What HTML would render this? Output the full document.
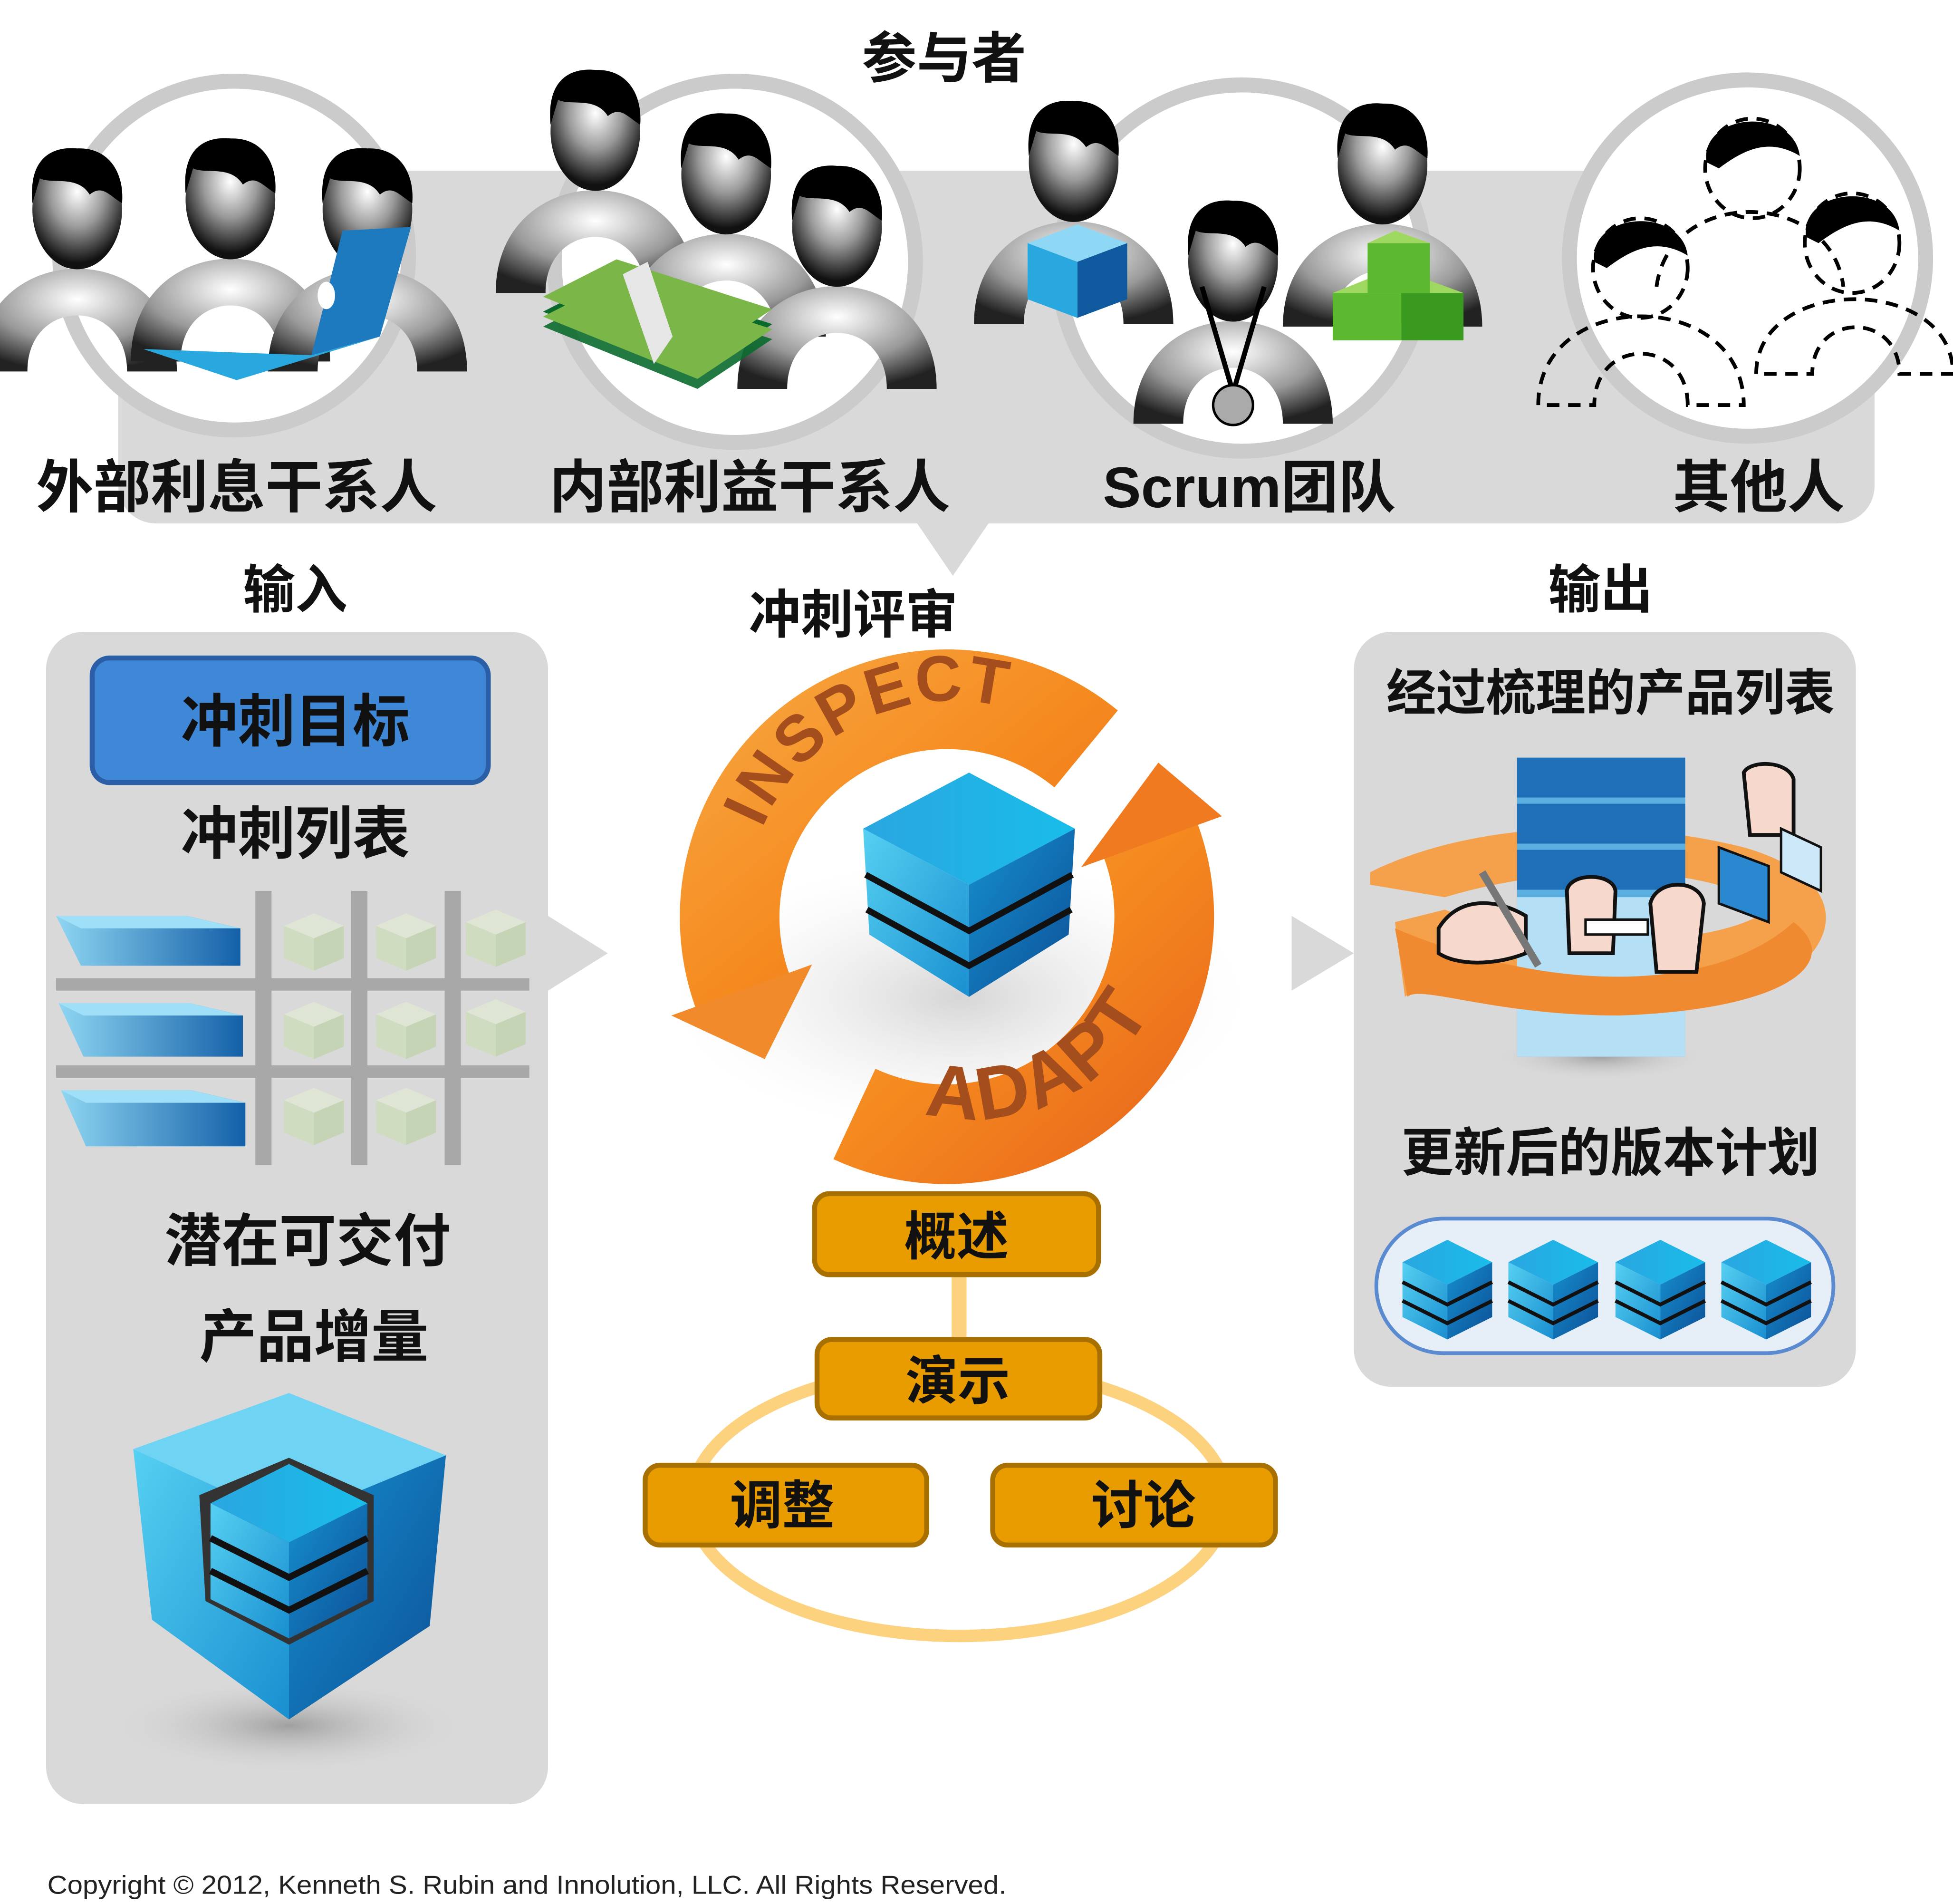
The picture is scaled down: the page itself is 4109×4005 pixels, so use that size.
<!DOCTYPE html>
<html><head><meta charset="utf-8"><style>
html,body{margin:0;padding:0;background:#fff}
svg{display:block}
.t{font-family:"Liberation Sans","Noto Sans CJK SC",sans-serif;font-weight:bold;fill:#111;text-anchor:middle}
</style></head><body>
<svg width="4109" height="4005" viewBox="0 0 1568 1528" xmlns="http://www.w3.org/2000/svg">
<defs>
<radialGradient id="gp" cx="0.5" cy="0.35" r="0.6"><stop offset="0" stop-color="#fff"/><stop offset="0.5" stop-color="#9a9a9a"/><stop offset="1" stop-color="#111"/></radialGradient>
<radialGradient id="gb" cx="0.5" cy="0.3" r="0.7"><stop offset="0" stop-color="#fff"/><stop offset="0.6" stop-color="#999"/><stop offset="1" stop-color="#222"/></radialGradient>
<linearGradient id="blueL" x1="0" y1="0" x2="1" y2="1"><stop offset="0" stop-color="#56d0f2"/><stop offset="1" stop-color="#1a8fd0"/></linearGradient>
<linearGradient id="blueR" x1="0" y1="0" x2="1" y2="1"><stop offset="0" stop-color="#1590cf"/><stop offset="1" stop-color="#0d4f96"/></linearGradient>
<linearGradient id="blueT" x1="0" y1="0" x2="1" y2="0"><stop offset="0" stop-color="#2aa6e0"/><stop offset="1" stop-color="#19bdea"/></linearGradient>
<linearGradient id="bar" x1="0" y1="0" x2="1" y2="0"><stop offset="0" stop-color="#8fd6f2"/><stop offset="1" stop-color="#1460a8"/></linearGradient>
<linearGradient id="org" x1="0" y1="0" x2="1" y2="1"><stop offset="0" stop-color="#f7a23c"/><stop offset="0.5" stop-color="#f58a1f"/><stop offset="1" stop-color="#ea6a1c"/></linearGradient>
<radialGradient id="shadow" cx="0.5" cy="0.5" r="0.5"><stop offset="0" stop-color="#888" stop-opacity="0.7"/><stop offset="1" stop-color="#ddd" stop-opacity="0"/></radialGradient>
<g id="person">
<path d="M-80,130 C-80,20 80,20 80,130 L40,130 C40,70 -40,70 -40,130 Z" fill="url(#gb)"/>
<ellipse cx="0" cy="0" rx="36" ry="48" fill="url(#gp)"/>
<path d="M-36,-5 C-40,-50 -10,-50 0,-49 C25,-50 38,-30 36,-5 C25,-12 20,-20 10,-12 C0,-28 -20,-20 -30,-25 Z" fill="#000"/>
</g>
<g id="cube">
<polygon points="0,-40 36,-22 0,-4 -36,-22" fill="url(#blueT)"/>
<polygon points="-36,-22 0,-4 0,40 -36,22" fill="url(#blueL)"/>
<polygon points="36,-22 0,-4 0,40 36,22" fill="url(#blueR)"/>
<polyline points="-36,-6 0,12 36,-6" fill="none" stroke="#111" stroke-width="3"/>
<polyline points="-36,9 0,27 36,9" fill="none" stroke="#111" stroke-width="3"/>
</g>
<g id="pcube" opacity="0.5">
<polygon points="0,-22 24,-12 0,-2 -24,-12" fill="#e6f2d0"/>
<polygon points="-24,-12 0,-2 0,24 -24,14" fill="#c8e0a8"/>
<polygon points="24,-12 0,-2 0,24 24,14" fill="#b0d090"/>
</g>
</defs>

<rect x="95" y="137" width="1410" height="283" rx="30" fill="#d9d9d9"/>
<polygon points="735,418 795,418 765,462" fill="#d9d9d9"/>
<text class="t" x="758" y="62" font-size="44">参与者</text>

<g stroke="#cbcbcb" stroke-width="12" fill="#fff">
<circle cx="188" cy="205" r="140"/>
<circle cx="590" cy="210" r="145"/>
<circle cx="997" cy="215" r="147"/>
<circle cx="1403" cy="207" r="143"/>
</g>

<use href="#person" x="62" y="168"/>
<use href="#person" x="185" y="160"/>
<use href="#person" x="295" y="168"/>
<polygon points="275,185 330,182 305,270 250,285" fill="#1e7abf"/>
<polygon points="115,280 250,285 305,270 190,305" fill="#29a8e0"/>
<ellipse cx="262" cy="237" rx="7" ry="11" fill="#fff"/>

<use href="#person" x="478" y="105"/>
<use href="#person" x="583" y="140"/>
<use href="#person" x="672" y="182"/>
<g>
<polygon points="436,250 495,220 620,260 560,300" fill="#0a6a2c"/>
<polygon points="436,238 495,208 620,248 560,288" fill="#7ab648"/>
<polygon points="436,262 495,232 620,272 560,312" fill="#0a6a2c" opacity="0.9"/>
<polygon points="436,254 495,224 620,264 560,304" fill="#7ab648"/>
<polygon points="500,220 520,210 540,270 525,292" fill="#e6e6e6"/>
</g>

<use href="#person" x="862" y="130"/>
<use href="#person" x="990" y="210"/>
<use href="#person" x="1110" y="132"/>
<polygon points="825,195 865,180 905,195 865,210" fill="#8fd8f5"/>
<polygon points="825,195 865,210 865,255 825,240" fill="#29a8e0"/>
<polygon points="905,195 865,210 865,255 905,240" fill="#0f5a9e"/>
<path d="M965,230 L990,315 L1015,230" fill="none" stroke="#000" stroke-width="4"/>
<circle cx="990" cy="325" r="16" fill="#aaa" stroke="#000" stroke-width="2"/>
<g>
<polygon points="1070,235 1120,215 1175,235 1125,258" fill="#9fd860"/>
<rect x="1070" y="235" width="55" height="38" fill="#5cb82e"/>
<rect x="1125" y="235" width="50" height="38" fill="#3a9a20"/>
<rect x="1098" y="195" width="50" height="40" fill="#5cb82e"/>
<polygon points="1098,195 1120,185 1148,195" fill="#9fd860"/>
</g>

<g fill="none" stroke="#000" stroke-width="3" stroke-dasharray="10,7">
<ellipse cx="1407" cy="135" rx="38" ry="40"/>
<path d="M1330,230 C1340,150 1470,150 1480,230"/>
<ellipse cx="1317" cy="215" rx="38" ry="40"/>
<path d="M1235,325 C1235,230 1400,230 1400,325 L1355,325 C1355,270 1280,270 1280,325 Z"/>
<ellipse cx="1487" cy="195" rx="38" ry="40"/>
<path d="M1410,300 C1410,220 1568,220 1568,300 L1525,300 C1525,250 1455,250 1455,300 Z"/>
</g>
<path d="M1370,130 C1365,90 1440,85 1445,125 C1420,110 1400,120 1380,135 Z" fill="#000"/>
<path d="M1280,210 C1275,170 1350,165 1355,205 C1330,190 1310,200 1290,215 Z" fill="#000"/>
<path d="M1450,190 C1445,150 1520,145 1525,185 C1500,170 1480,180 1460,195 Z" fill="#000"/>

<text class="t" x="190" y="407" font-size="46">外部利息干系人</text>
<text class="t" x="602" y="407" font-size="46">内部利益干系人</text>
<text class="t" x="1003" y="407" font-size="46">Scrum团队</text>
<text class="t" x="1412" y="407" font-size="46">其他人</text>

<text class="t" x="237" y="488" font-size="42">输入</text>
<text class="t" x="685" y="508" font-size="42">冲刺评审</text>
<text class="t" x="1285" y="488" font-size="42">输出</text>

<rect x="37" y="507" width="403" height="941" rx="30" fill="#d9d9d9"/>
<polygon points="440,735 488,765 440,795" fill="#d9d9d9"/>
<rect x="74" y="528" width="318" height="100" rx="14" fill="#3f88d8" stroke="#2a5fa8" stroke-width="4"/>
<text class="t" x="237" y="595" font-size="46">冲刺目标</text>
<text class="t" x="237" y="685" font-size="46">冲刺列表</text>
<g fill="#a8a8a8">
<rect x="205" y="715" width="13" height="220"/>
<rect x="282" y="715" width="13" height="220"/>
<rect x="357" y="715" width="13" height="220"/>
<rect x="45" y="785" width="380" height="10"/>
<rect x="45" y="855" width="380" height="10"/>
</g>
<g>
<polygon points="45,735 150,735 193,745 193,775 65,775" fill="url(#bar)"/>
<polygon points="45,735 65,745 193,745 150,735" fill="#9fe0f8"/>
<polygon points="47,805 152,805 195,815 195,848 67,848" fill="url(#bar)"/>
<polygon points="47,805 67,815 195,815 152,805" fill="#9fe0f8"/>
<polygon points="49,875 154,875 197,885 197,920 69,920" fill="url(#bar)"/>
<polygon points="49,875 69,885 197,885 154,875" fill="#9fe0f8"/>
</g>
<use href="#pcube" x="252" y="755"/><use href="#pcube" x="326" y="755"/><use href="#pcube" x="398" y="752"/>
<use href="#pcube" x="252" y="826"/><use href="#pcube" x="326" y="826"/><use href="#pcube" x="398" y="824"/>
<use href="#pcube" x="252" y="895"/><use href="#pcube" x="326" y="895"/>
<text class="t" x="247" y="1012" font-size="46">潜在可交付</text>
<text class="t" x="252" y="1089" font-size="46">产品增量</text>
<ellipse cx="232" cy="1385" rx="150" ry="40" fill="url(#shadow)"/>
<polygon points="107,1163 232,1118 358,1168 232,1220" fill="#6fd4f4"/>
<polygon points="107,1163 232,1220 232,1380 122,1300" fill="url(#blueL)"/>
<polygon points="358,1168 232,1220 232,1380 345,1305" fill="url(#blueR)"/>
<polygon points="160,1200 232,1170 300,1200 300,1285 232,1320 165,1285" fill="#333"/>
<g transform="translate(232,1245) scale(1.75)"><use href="#cube"/></g>

<ellipse cx="770" cy="800" rx="230" ry="110" fill="url(#shadow)" opacity="0.5"/>
<path d="M872,601 A175,175 0 0 0 596,795" fill="none" stroke="url(#org)" stroke-width="80"/>
<polygon points="652,774 539,815 614,850" fill="#f08a2a"/>
<path d="M686,894 A175,175 0 0 0 924,675" fill="none" stroke="url(#org)" stroke-width="80"/>
<polygon points="981,655 868,696 930,612" fill="#f07a20"/>
<path id="tp1" d="M612,665 A165,165 0 0 1 870,600" fill="none"/>
<path id="tp2" d="M742,893 A160,160 0 0 0 940,760" fill="none"/>
<text font-family="Liberation Sans Narrow,Liberation Sans,sans-serif" font-weight="bold" font-size="52" fill="#a34e1c" letter-spacing="2"><textPath href="#tp1">INSPECT</textPath></text>
<text font-family="Liberation Sans Narrow,Liberation Sans,sans-serif" font-weight="bold" font-size="60" fill="#a34e1c" letter-spacing="2"><textPath href="#tp2">ADAPT</textPath></text>
<g transform="translate(778,710)">
<polygon points="0,-90 85,-45 0,0 -85,-45" fill="url(#blueT)"/>
<polygon points="-85,-45 0,0 0,90 -80,40" fill="url(#blueL)"/>
<polygon points="85,-45 0,0 0,90 80,40" fill="url(#blueR)"/>
<polyline points="-83,-8 0,37 83,-8" fill="none" stroke="#111" stroke-width="5"/>
<polyline points="-82,20 0,65 82,20" fill="none" stroke="#111" stroke-width="5"/>
</g>

<ellipse cx="770" cy="1205" rx="215" ry="108" fill="none" stroke="#fdd27f" stroke-width="10"/>
<rect x="764" y="1023" width="12" height="52" fill="#fdd27f"/>
<g fill="#e89c00" stroke="#a87000" stroke-width="4">
<rect x="654" y="958" width="228" height="65" rx="12"/>
<rect x="656" y="1075" width="227" height="63" rx="12"/>
<rect x="518" y="1176" width="226" height="64" rx="12"/>
<rect x="797" y="1176" width="227" height="64" rx="12"/>
</g>
<text class="t" x="768" y="1007" font-size="42">概述</text>
<text class="t" x="769" y="1123" font-size="42">演示</text>
<text class="t" x="628" y="1223" font-size="42">调整</text>
<text class="t" x="918" y="1223" font-size="42">讨论</text>

<polygon points="1037,735 1087,765 1037,795" fill="#d9d9d9"/>
<rect x="1087" y="507" width="403" height="606" rx="30" fill="#d9d9d9"/>
<text class="t" x="1293" y="570" font-size="40">经过梳理的产品列表</text>
<ellipse cx="1285" cy="848" rx="90" ry="20" fill="url(#shadow)"/>
<path d="M1100,700 C1180,660 1300,655 1400,680 C1470,700 1480,740 1450,770 C1400,810 1250,820 1140,790 L1128,800 L1120,740 L1160,730 C1250,765 1380,760 1420,730 C1380,695 1260,690 1160,720 L1100,710 Z" fill="#f5a04a"/>
<rect x="1218" y="608" width="135" height="240" fill="#5aaee0"/>
<g fill="#1e6fb8"><rect x="1218" y="608" width="135" height="32"/><rect x="1218" y="645" width="135" height="32"/><rect x="1218" y="682" width="135" height="32"/></g>
<rect x="1218" y="720" width="135" height="128" fill="#b4dff4"/>
<path d="M1120,745 C1250,800 1380,795 1440,740 C1480,770 1440,810 1300,815 C1200,815 1140,790 1130,800 Z" fill="#f08a30"/>
<g fill="#f6d8cc" stroke="#111" stroke-width="3">
<path d="M1155,745 C1170,720 1200,720 1225,735 L1225,765 C1200,775 1170,775 1155,765 Z"/>
<path d="M1258,715 C1260,700 1295,700 1297,715 L1295,765 L1260,765 Z"/>
<path d="M1325,725 C1330,705 1365,705 1368,725 L1362,780 L1330,780 Z"/>
<path d="M1400,620 C1405,610 1435,610 1440,625 L1440,670 L1405,670 Z"/>
</g>
<line x1="1190" y1="700" x2="1235" y2="775" stroke="#777" stroke-width="6"/>
<rect x="1273" y="738" width="50" height="12" fill="#fff" stroke="#111" stroke-width="2"/>
<g stroke="#111" stroke-width="2"><polygon points="1380,680 1420,695 1420,740 1380,725" fill="#2a88d0"/><polygon points="1430,665 1462,680 1462,715 1430,700" fill="#cde8f8"/></g>
<text class="t" x="1293" y="940" font-size="42">更新后的版本计划</text>
<rect x="1105" y="978" width="367" height="108" rx="54" fill="#e6eef8" stroke="#5a8ad0" stroke-width="3"/>
<use href="#cube" x="1162" y="1035"/>
<use href="#cube" x="1247" y="1035"/>
<use href="#cube" x="1333" y="1035"/>
<use href="#cube" x="1418" y="1035"/>

<text x="38" y="1520" font-family="Liberation Sans,sans-serif" font-size="21" fill="#222" textLength="770" lengthAdjust="spacingAndGlyphs">Copyright © 2012, Kenneth S. Rubin and Innolution, LLC. All Rights Reserved.</text>
</svg>
</body></html>
